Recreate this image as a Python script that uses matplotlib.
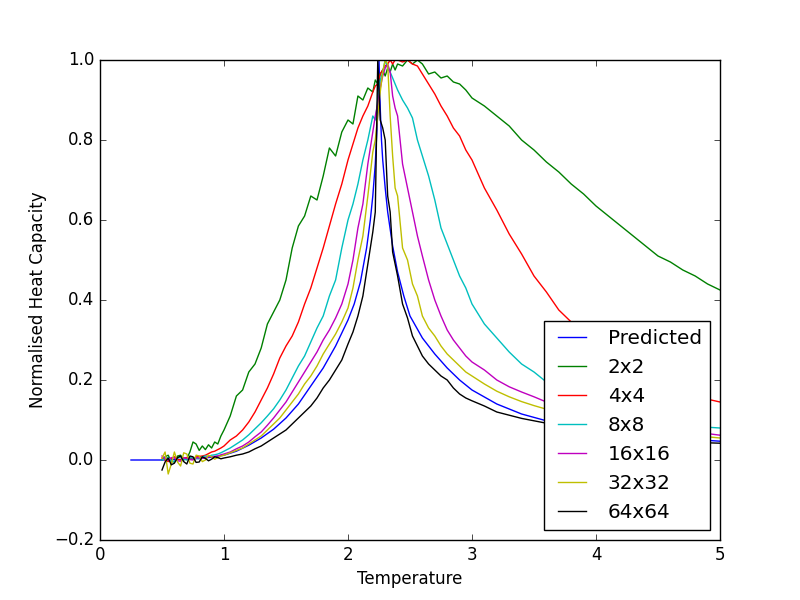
import matplotlib
matplotlib.use('Agg')
import matplotlib.pyplot as plt

plt.style.use('classic')

# temperatures of the simulated runs
temps = [
    0.5, 0.525, 0.55, 0.575, 0.6, 0.625, 0.65, 0.675, 0.7, 0.725,
    0.75, 0.775, 0.8, 0.825, 0.85, 0.875, 0.9, 0.925, 0.95, 0.975,
    1.0, 1.05, 1.1, 1.15, 1.2, 1.25, 1.3, 1.35, 1.4, 1.45,
    1.5, 1.55, 1.6, 1.65, 1.7, 1.75, 1.8, 1.85, 1.9, 1.95,
    2.0, 2.04, 2.08, 2.12, 2.16, 2.2, 2.22, 2.24, 2.26, 2.28,
    2.3, 2.32, 2.34, 2.36, 2.38, 2.4, 2.44, 2.48, 2.52, 2.56,
    2.6, 2.65, 2.7, 2.75, 2.8, 2.85, 2.9, 2.95, 3.0,
    3.1, 3.2, 3.3, 3.4, 3.5, 3.6, 3.7, 3.8, 3.9, 4.0,
    4.1, 4.2, 4.3, 4.4, 4.5, 4.6, 4.7, 4.8, 4.9, 5.0,
]

c_2x2 = [
    0.0, 0.008, 0.012, -0.004, -0.005, 0.01, 0.012, 0.0, 0.004, 0.02,
    0.045, 0.04, 0.024, 0.035, 0.026, 0.038, 0.03, 0.045, 0.04, 0.06,
    0.075, 0.11, 0.16, 0.175, 0.22, 0.24, 0.28, 0.34, 0.37, 0.40,
    0.45, 0.53, 0.585, 0.61, 0.66, 0.65, 0.71, 0.78, 0.76, 0.82,
    0.85, 0.84, 0.91, 0.90, 0.93, 0.92, 0.95, 0.94, 0.965, 0.975,
    0.96, 0.98, 0.97, 0.99, 0.975, 0.99, 0.985, 1.0, 0.99, 1.0,
    0.99, 0.965, 0.97, 0.955, 0.96, 0.945, 0.94, 0.925, 0.905,
    0.885, 0.86, 0.835, 0.80, 0.775, 0.745, 0.72, 0.69, 0.665, 0.635,
    0.61, 0.585, 0.56, 0.535, 0.51, 0.495, 0.475, 0.46, 0.44, 0.425,
]

c_4x4 = [
    0.005, 0.0, -0.004, 0.004, 0.008, 0.002, 0.0, 0.005, 0.006, 0.002,
    0.003, 0.008, 0.009, 0.01, 0.012, 0.016, 0.02, 0.022, 0.026, 0.03,
    0.035, 0.05, 0.06, 0.075, 0.095, 0.12, 0.15, 0.18, 0.215, 0.255,
    0.285, 0.31, 0.345, 0.39, 0.43, 0.48, 0.53, 0.585, 0.64, 0.69,
    0.75, 0.79, 0.83, 0.86, 0.885, 0.92, 0.935, 0.94, 0.965, 0.975,
    0.985, 0.99, 1.0, 0.99, 1.0, 1.0, 0.995, 1.0, 0.99, 0.985,
    0.965, 0.94, 0.915, 0.885, 0.86, 0.83, 0.81, 0.775, 0.75,
    0.68, 0.625, 0.565, 0.515, 0.46, 0.42, 0.375, 0.345, 0.315, 0.29,
    0.265, 0.245, 0.225, 0.21, 0.195, 0.18, 0.17, 0.16, 0.152, 0.145,
]

c_8x8 = [
    0.0, 0.004, 0.006, -0.002, -0.004, 0.005, 0.008, 0.002, 0.0, 0.006,
    0.005, 0.004, 0.003, 0.008, 0.01, 0.009, 0.012, 0.013, 0.015, 0.018,
    0.022, 0.03, 0.04, 0.05, 0.063, 0.078, 0.093, 0.11, 0.128, 0.15,
    0.175, 0.205, 0.235, 0.26, 0.295, 0.33, 0.36, 0.41, 0.45, 0.53,
    0.60, 0.64, 0.69, 0.75, 0.80, 0.86, 0.85, 0.90, 0.95, 0.97,
    1.0, 0.98, 0.97, 0.955, 0.94, 0.925, 0.90, 0.88, 0.855, 0.80,
    0.76, 0.71, 0.65, 0.58, 0.54, 0.50, 0.46, 0.43, 0.39,
    0.34, 0.305, 0.27, 0.24, 0.22, 0.195, 0.175, 0.16, 0.145, 0.135,
    0.125, 0.117, 0.11, 0.104, 0.098, 0.093, 0.088, 0.085, 0.082, 0.08,
]

c_16x16 = [
    0.01, 0.004, 0.0, 0.006, 0.005, -0.002, -0.003, 0.006, 0.004, 0.001,
    0.0, 0.006, 0.005, 0.004, 0.006, 0.008, 0.008, 0.009, 0.01, 0.013,
    0.015, 0.02, 0.028, 0.035, 0.045, 0.058, 0.07, 0.087, 0.105, 0.125,
    0.145, 0.17, 0.195, 0.22, 0.245, 0.27, 0.30, 0.325, 0.355, 0.39,
    0.44, 0.50, 0.58, 0.64, 0.74, 0.82, 0.86, 0.89, 0.93, 0.96,
    0.98, 0.99, 0.97, 0.91, 0.88, 0.86, 0.74, 0.68, 0.62, 0.56,
    0.51, 0.45, 0.40, 0.36, 0.325, 0.30, 0.28, 0.26, 0.245,
    0.225, 0.20, 0.183, 0.17, 0.158, 0.145, 0.135, 0.125, 0.117, 0.11,
    0.103, 0.097, 0.091, 0.086, 0.081, 0.077, 0.073, 0.069, 0.066, 0.062,
]

c_32x32 = [
    0.005, 0.02, -0.035, -0.01, 0.02, -0.005, -0.015, 0.018, 0.015, -0.008,
    -0.01, 0.012, 0.01, -0.004, 0.0, 0.012, 0.008, 0.002, 0.006, 0.01,
    0.012, 0.018, 0.024, 0.03, 0.04, 0.05, 0.06, 0.075, 0.09, 0.105,
    0.125, 0.145, 0.165, 0.19, 0.21, 0.235, 0.265, 0.29, 0.315, 0.345,
    0.38, 0.43, 0.50, 0.56, 0.66, 0.77, 0.80, 0.86, 0.92, 0.97,
    1.0, 0.99, 0.86, 0.76, 0.68, 0.66, 0.53, 0.50, 0.44, 0.41,
    0.36, 0.33, 0.31, 0.285, 0.265, 0.25, 0.235, 0.22, 0.21,
    0.19, 0.172, 0.158, 0.146, 0.136, 0.127, 0.118, 0.11, 0.103, 0.097,
    0.091, 0.086, 0.081, 0.076, 0.072, 0.068, 0.064, 0.061, 0.058, 0.055,
]

c_64x64 = [
    -0.025, -0.005, 0.005, -0.012, -0.008, 0.006, 0.01, -0.004, -0.01, 0.01,
    0.008, -0.006, -0.005, 0.008, 0.004, -0.002, 0.002, 0.008, 0.006, 0.003,
    0.005, 0.008, 0.012, 0.015, 0.02, 0.028, 0.035, 0.045, 0.055, 0.065,
    0.075, 0.09, 0.105, 0.12, 0.135, 0.155, 0.18, 0.2, 0.225, 0.25,
    0.29, 0.32, 0.36, 0.41, 0.49, 0.57, 0.62, 1.0, 0.85, 0.83,
    0.80, 0.66, 0.62, 0.52, 0.49, 0.46, 0.39, 0.355, 0.31, 0.285,
    0.26, 0.24, 0.225, 0.21, 0.20, 0.18, 0.165, 0.155, 0.148,
    0.135, 0.12, 0.112, 0.104, 0.098, 0.092, 0.084, 0.077, 0.071, 0.066,
    0.062, 0.058, 0.055, 0.052, 0.05, 0.048, 0.046, 0.044, 0.043, 0.042,
]

# predicted (exact) curve
temps_pred = [
    0.25, 0.5, 0.6, 0.7, 0.8, 0.9, 1.0, 1.1, 1.2, 1.3,
    1.4, 1.5, 1.6, 1.7, 1.8, 1.9, 2.0, 2.05, 2.1, 2.15,
    2.18, 2.2, 2.22, 2.24, 2.25, 2.26, 2.27, 2.28, 2.3, 2.32,
    2.36, 2.4, 2.45, 2.5, 2.6, 2.7, 2.8, 2.9, 3.0, 3.2,
    3.4, 3.6, 3.8, 4.0, 4.2, 4.4, 4.6, 4.8, 5.0,
]
c_pred = [
    0.0, 0.0, 0.001, 0.002, 0.004, 0.007, 0.012, 0.022, 0.037, 0.055,
    0.077, 0.105, 0.14, 0.185, 0.23, 0.285, 0.35, 0.39, 0.445, 0.53,
    0.6, 0.66, 0.74, 0.87, 1.0, 0.88, 0.8, 0.75, 0.68, 0.62,
    0.535, 0.47, 0.41, 0.36, 0.305, 0.265, 0.23, 0.2, 0.175, 0.14,
    0.115, 0.098, 0.084, 0.074, 0.066, 0.06, 0.055, 0.051, 0.047,
]

series = [
    ('2x2', c_2x2),
    ('4x4', c_4x4),
    ('8x8', c_8x8),
    ('16x16', c_16x16),
    ('32x32', c_32x32),
    ('64x64', c_64x64),
]

fig, ax = plt.subplots(figsize=(8, 6))

ax.plot(temps_pred, c_pred, label='Predicted')
for name, vals in series:
    ax.plot(temps, vals, label=name)

ax.set_xlim(0, 5)
ax.set_ylim(-0.2, 1.0)
ax.set_xlabel('Temperature')
ax.set_ylabel('Normalised Heat Capacity')
ax.legend(loc='lower right')

fig.savefig('out.png', dpi=100)
plt.close(fig)
